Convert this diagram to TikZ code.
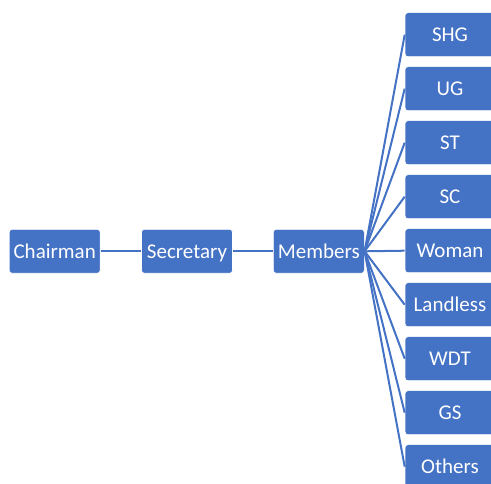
\documentclass[tikz,border=0pt]{standalone}
\usepackage{fontspec}
\setmainfont{Carlito}
\definecolor{boxblue}{HTML}{4472C4}
\tikzset{
  box/.style={fill=boxblue,draw=white,line width=0.6pt,rounded corners=3pt,
    text=white,font=\fontsize{21}{25}\selectfont,text height=14pt,text depth=0pt,
    minimum width=91pt,minimum height=44pt,inner sep=1pt},
  link/.style={draw=boxblue,line width=2.4pt}
}
\begin{document}
\begin{tikzpicture}[x=1pt,y=-1pt]
                \useasboundingbox (0,0) rectangle (491,484);

                \node[box] (chairman) at (54.7,251.3) {Chairman};
                \node[box] (secretary) at (187,251.3) {Secretary};
                \node[box] (members) at (318.8,251.3) {Members};

                \draw[link] (chairman) -- (secretary);
                \draw[link] (secretary) -- (members);

                \foreach \name [count=\i from 0] in {SHG,UG,ST,SC,Woman,Landless,WDT,GS,Others}
                {
                  \node[box,minimum width=90pt] (\name) at (450,34.7+54*\i) {\name};
                  \draw[link,line width=2pt] (members.east) -- (\name.west);
                }
\end{tikzpicture}
\end{document}
